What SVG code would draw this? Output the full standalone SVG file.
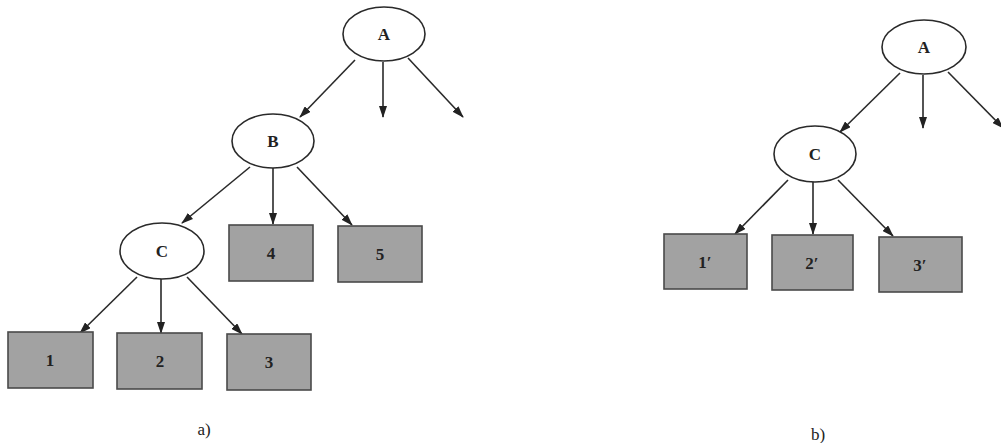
<svg xmlns="http://www.w3.org/2000/svg" width="1001" height="443" viewBox="0 0 1001 443">
<defs>
<marker id="ah" viewBox="0 0 12 8" refX="11" refY="4" markerWidth="12" markerHeight="8" markerUnits="userSpaceOnUse" orient="auto">
<path d="M0,0 L12,4 L0,8 Z" fill="#222"/>
</marker>
</defs>
<style>
.ell{fill:#fff;stroke:#2a2a2a;stroke-width:1.6}
.box{fill:#a2a2a2;stroke:#4a4a4a;stroke-width:1.6}
.lbl{font-family:"Liberation Serif","Times New Roman",serif;font-size:17px;font-weight:bold;fill:#222;text-anchor:middle;dominant-baseline:central}
.cap{font-family:"Liberation Serif","Times New Roman",serif;font-size:17px;fill:#222;text-anchor:middle}
.edge{stroke:#2a2a2a;stroke-width:1.6;fill:none;marker-end:url(#ah)}
</style>
<rect width="1001" height="443" fill="#fff"/>
<g id="connectors">
<line class="edge" x1="355" y1="60" x2="300" y2="117"/>
<line class="edge" x1="383" y1="62" x2="383" y2="117"/>
<line class="edge" x1="408" y1="58" x2="463" y2="117"/>
<line class="edge" x1="250" y1="167" x2="182" y2="223"/>
<line class="edge" x1="273" y1="168" x2="273" y2="224"/>
<line class="edge" x1="297" y1="167" x2="352" y2="225"/>
<line class="edge" x1="137" y1="277" x2="80" y2="333"/>
<line class="edge" x1="161" y1="279" x2="161" y2="333"/>
<line class="edge" x1="187" y1="277" x2="242" y2="334"/>
<line class="edge" x1="900" y1="73" x2="840" y2="132"/>
<line class="edge" x1="923" y1="75" x2="923" y2="128"/>
<line class="edge" x1="948" y1="72" x2="1003" y2="128"/>
<line class="edge" x1="788" y1="180" x2="735" y2="234"/>
<line class="edge" x1="813" y1="182" x2="813" y2="234"/>
<line class="edge" x1="838" y1="180" x2="893" y2="236"/>
</g>
<g id="a-A"><ellipse class="ell" cx="384" cy="34" rx="41" ry="27"/><text class="lbl" x="384" y="34">A</text></g>
<g id="a-B"><ellipse class="ell" cx="273" cy="141" rx="41" ry="27"/><text class="lbl" x="273" y="141">B</text></g>
<g id="a-C"><ellipse class="ell" cx="162" cy="251" rx="42" ry="28"/><text class="lbl" x="162" y="251">C</text></g>
<g id="a-4"><rect class="box" x="229" y="225" width="84" height="56"/><text class="lbl" x="271" y="253">4</text></g>
<g id="a-5"><rect class="box" x="338" y="226" width="84" height="56"/><text class="lbl" x="380" y="254">5</text></g>
<g id="a-1"><rect class="box" x="8" y="332" width="85" height="56"/><text class="lbl" x="50" y="360">1</text></g>
<g id="a-2"><rect class="box" x="117" y="333" width="85" height="56"/><text class="lbl" x="160" y="361">2</text></g>
<g id="a-3"><rect class="box" x="227" y="334" width="84" height="56"/><text class="lbl" x="269" y="362">3</text></g>
<text class="cap" x="204" y="435">a)</text>
<g id="b-A"><ellipse class="ell" cx="924" cy="47" rx="42" ry="27"/><text class="lbl" x="924" y="47">A</text></g>
<g id="b-C"><ellipse class="ell" cx="815" cy="154" rx="41" ry="28"/><text class="lbl" x="815" y="154">C</text></g>
<g id="b-1"><rect class="box" x="664" y="234" width="83" height="55"/><text class="lbl" x="705" y="262">1′</text></g>
<g id="b-2"><rect class="box" x="772" y="235" width="81" height="55"/><text class="lbl" x="812" y="263">2′</text></g>
<g id="b-3"><rect class="box" x="879" y="237" width="83" height="55"/><text class="lbl" x="920" y="265">3′</text></g>
<text class="cap" x="818" y="440">b)</text>
</svg>
